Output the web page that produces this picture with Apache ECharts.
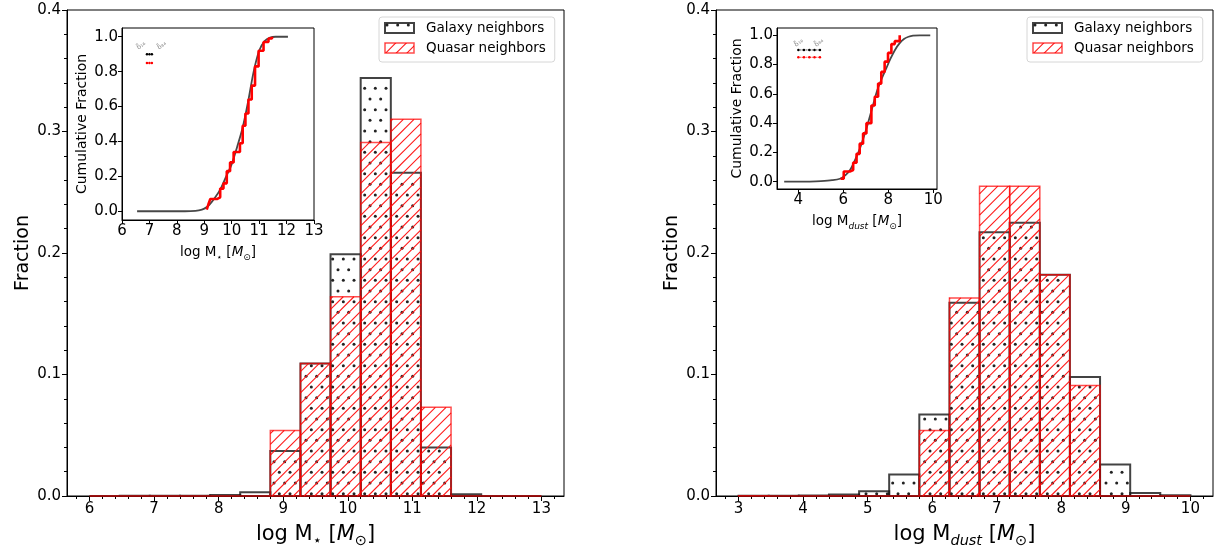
<!DOCTYPE html>
<html><head><meta charset="utf-8">
<script src="https://cdn.jsdelivr.net/npm/echarts@6/dist/echarts.min.js"></script>
<style>html,body{margin:0;padding:0;background:#fff}#c{width:1215px;height:554px}</style>
</head><body><div id="c"></div>
<script>
// ---------- data ----------
const starEdges = [6.000,6.467,6.933,7.400,7.867,8.333,8.800,9.267,9.733,10.200,10.667,11.133,11.600,12.067,12.533,13.000];
const starGalaxy = [0,0.0003,0.0002,0.0003,0.0008,0.003,0.037,0.109,0.199,0.344,0.266,0.040,0.0015,0,0];
const starQuasar = [0,0,0,0,0,0,0.054,0.109,0.164,0.291,0.310,0.073,0,0,0];

const dustEdges = [3.000,3.467,3.933,4.400,4.867,5.333,5.800,6.267,6.733,7.200,7.667,8.133,8.600,9.067,9.533,10.000];
const dustGalaxy = [0.0003,0.0002,0.0004,0.0012,0.004,0.0176,0.067,0.159,0.217,0.225,0.182,0.098,0.026,0.0025,0.0006];
const dustQuasar = [0.0003,0,0,0,0,0,0.054,0.163,0.255,0.255,0.182,0.091,0,0,0];

const starCdfGalX = [6.55,7.0,7.5,8.0,8.5,8.8,9.0,9.2,9.4,9.6,9.8,10.0,10.2,10.4,10.6,10.8,11.0,11.2,11.4,11.6,12.05];
const starCdfGalY = [0,0,0,0,0.001,0.005,0.015,0.04,0.08,0.13,0.2,0.27,0.37,0.48,0.63,0.8,0.92,0.975,0.995,1.0,1.0];
const starCdfQsoX = [9.09,9.15,9.22,9.35,9.46,9.58,9.7,9.82,9.94,10.07,10.19,10.3,10.4,10.5,10.61,10.73,10.85,10.98,11.16,11.34,11.47];
const starCdfQsoY = [0.01,0.04,0.07,0.07,0.08,0.13,0.16,0.23,0.28,0.34,0.34,0.39,0.49,0.56,0.64,0.72,0.83,0.92,0.97,0.99,1.0];

const dustCdfGalX = [3.37,4.0,4.5,5.0,5.5,5.85,6.1,6.3,6.5,6.7,6.9,7.1,7.3,7.5,7.7,7.9,8.1,8.3,8.5,8.7,8.9,9.1,9.4,9.87];
const dustCdfGalY = [0,0,0.001,0.004,0.01,0.02,0.045,0.08,0.14,0.21,0.3,0.4,0.51,0.62,0.7,0.77,0.84,0.9,0.945,0.975,0.99,0.998,1.0,1.0];
const dustCdfQsoX = [5.88,6.02,6.29,6.44,6.59,6.73,6.88,7.03,7.25,7.4,7.55,7.69,7.84,7.99,8.14,8.29,8.51];
const dustCdfQsoY = [0.02,0.07,0.08,0.13,0.19,0.26,0.33,0.40,0.52,0.58,0.67,0.75,0.82,0.88,0.94,0.96,1.0];

// percentile markers in the insets
const starPctGal = [[6.91,0.9],[7.0,0.9],[7.09,0.9]];
const starPctQso = [[6.91,0.85],[7.0,0.85],[7.09,0.85]];
const starPctLabels = [[6.70,0.95,'δ̃₁₆'],[7.45,0.95,'δ̃₈₄']];
const dustPctGal = [[4.0,0.9],[4.25,0.9],[4.49,0.9],[4.72,0.9],[4.96,0.9]];
const dustPctQso = [[4.0,0.85],[4.25,0.85],[4.49,0.85],[4.72,0.85],[4.96,0.85]];
const dustPctLabels = [[4.02,0.95,'δ̃₁₆'],[4.92,0.95,'δ̃₈₄']];

const starTicks = [6,7,8,9,10,11,12,13];
const dustTicks = [3,4,5,6,7,8,9,10];
const starInsetTicks = [6,7,8,9,10,11,12,13];
const dustInsetTicks = [4,6,8,10];
const cdfTicks = [0,0.2,0.4,0.6,0.8,1.0];

// ---------- styles ----------
const HS = 32/3;            // hatch spacing in px
const DOT = '#222', HATCH = '#ff1a1a';
const galStroke='rgba(20,20,20,0.8)', qsoStroke='rgba(255,0,0,0.7)';

function makeDots(){
  const c=document.createElement('canvas'); c.width=32; c.height=64;
  const g=c.getContext('2d'); g.fillStyle=DOT;
  for(let r=-1;r<=7;r++){for(let k=-1;k<=4;k++){
    const x=k*HS+(r%2?HS/2:0)+2, y=r*HS+2;
    g.beginPath(); g.arc(x,y,1.5,0,Math.PI*2); g.fill();
  }}
  return c;
}
function makeHatch(){
  const c=document.createElement('canvas'); c.width=32; c.height=32;
  const g=c.getContext('2d'); g.strokeStyle=HATCH; g.lineWidth=1.1;
  for(let k=-3;k<=9;k++){const cc=k*HS; g.beginPath(); g.moveTo(cc-40,40); g.lineTo(cc+40,-40); g.stroke();}
  return c;
}
const dotPat={image:makeDots(),repeat:'repeat'};
const hatchPat={image:makeHatch(),repeat:'repeat'};

function bins(edges, vals){return vals.map((v,i)=>[edges[i],edges[i+1],v]);}
function zip(xs,ys){return xs.map((x,i)=>[x,ys[i]]);}

function dotsIn(x0,y0,x1,y1){
  const out=[];
  const j0=Math.floor(y0/HS), j1=Math.ceil(y1/HS);
  for(let j=j0;j<=j1;j++){
    const y=j*HS+3; if(y<y0+1.5||y>y1-1.5) continue;
    const off=(Math.abs(j)%2)?HS/2:0;
    const k0=Math.floor(x0/HS)-1, k1=Math.ceil(x1/HS)+1;
    for(let k=k0;k<=k1;k++){const x=k*HS+off+2; if(x<x0+1.5||x>x1-1.5) continue;
      out.push({type:'circle',shape:{cx:x,cy:y,r:1.5},style:{fill:DOT},silent:true});}
  }
  return out;
}
function hatchIn(x0,y0,x1,y1){
  const out=[];
  const c0=Math.floor((x0+y0)/HS), c1=Math.ceil((x1+y1)/HS);
  for(let k=c0;k<=c1;k++){
    const c=k*HS;
    const xa=Math.max(x0,c-y1), xb=Math.min(x1,c-y0);
    if(xb-xa<0.3) continue;
    out.push({type:'line',shape:{x1:xa,y1:c-xa,x2:xb,y2:c-xb},style:{stroke:HATCH,lineWidth:1.1},silent:true});
  }
  return out;
}
function histRender(kind,stroke,lw){
  return function(params,api){
    const p0=api.coord([api.value(0),api.value(2)]);
    const p1=api.coord([api.value(1),0]);
    const x0=p0[0], y0=p0[1], x1=p1[0], y1=p1[1];
    const fillEls = (y1-y0>1) ? (kind==='dots'?dotsIn(x0,y0,x1,y1):hatchIn(x0,y0,x1,y1)) : [];
    fillEls.push({type:'rect',shape:{x:x0,y:y0,width:x1-x0,height:y1-y0},style:{fill:'none',stroke:stroke,lineWidth:lw},silent:true});
    return {type:'group',children:fillEls};
  };
}
function minorVals(a,b){const r=[];for(let v=Math.ceil(a*5);v<=b*5+1e-9;v++){if(v%5!==0)r.push(+(v/5).toFixed(1));}return r;}

const FF='DejaVu Sans';
const richMain={n:{fontSize:21,lineHeight:28,fontFamily:FF,color:'#000'},i:{fontSize:21,lineHeight:28,fontStyle:'italic',fontFamily:FF,color:'#000'},
  s:{fontSize:14.5,lineHeight:15,verticalAlign:'bottom',fontFamily:FF,color:'#000'},si:{fontSize:14.5,lineHeight:15,verticalAlign:'bottom',fontStyle:'italic',fontFamily:FF,color:'#000'}};
const richInset={n:{fontSize:13.5,lineHeight:20,fontFamily:FF,color:'#000'},i:{fontSize:13.5,lineHeight:20,fontStyle:'italic',fontFamily:FF,color:'#000'},
  s:{fontSize:9,lineHeight:10,verticalAlign:'bottom',fontFamily:FF,color:'#000'},si:{fontSize:9,lineHeight:10,verticalAlign:'bottom',fontStyle:'italic',fontFamily:FF,color:'#000'}};
const nameStar='{n|log M}{s|⋆}{n| [}{i|M}{s|⊙}{n|]}';
const nameDust='{n|log M}{si|dust}{n| [}{i|M}{s|⊙}{n|]}';

function majorX(grid,min,max,ticks,name){
  return {type:'value',gridIndex:grid,position:'bottom',min:min,max:max,
    axisLine:{show:true,onZero:false,lineStyle:{color:'#000',width:1}},
    axisTick:{show:true,length:5,customValues:ticks,lineStyle:{color:'#000'}},
    axisLabel:{show:true,customValues:ticks,fontSize:15,color:'#000',fontFamily:FF,margin:6,formatter:v=>String(v)},
    splitLine:{show:false},name:name,nameLocation:'middle',nameGap:25,nameTextStyle:{rich:richMain}};
}
function minorX(grid,min,max,lo,hi){
  return {type:'value',gridIndex:grid,position:'bottom',min:min,max:max,
    axisLine:{show:false,onZero:false},axisLabel:{show:false},splitLine:{show:false},
    axisTick:{show:true,length:3,customValues:minorVals(lo,hi),lineStyle:{color:'#000'}}};
}
function mainY(grid){
  return {type:'value',gridIndex:grid,min:0,max:0.4,interval:0.1,
    axisLine:{show:true,lineStyle:{color:'#000',width:1}},
    axisTick:{show:true,length:5,lineStyle:{color:'#000'}},
    minorTick:{show:true,splitNumber:5,length:3,lineStyle:{color:'#000'}},
    axisLabel:{fontSize:15,color:'#000',fontFamily:FF,margin:6,formatter:v=>v.toFixed(1)},
    splitLine:{show:false},name:'Fraction',nameLocation:'middle',nameGap:34,
    nameTextStyle:{fontSize:19,color:'#000',fontFamily:FF}};
}
function insetX(grid,min,max,ticks,name){
  return {type:'value',gridIndex:grid,position:'bottom',min:min,max:max,z:5,
    axisLine:{show:true,onZero:false,lineStyle:{color:'#000',width:1}},
    axisTick:{show:true,length:4,customValues:ticks,lineStyle:{color:'#000'}},
    axisLabel:{show:true,customValues:ticks,fontSize:15,color:'#000',fontFamily:FF,margin:4,formatter:v=>String(v)},
    splitLine:{show:false},name:name,nameLocation:'middle',nameGap:22,nameTextStyle:{rich:richInset}};
}
function insetY(grid){
  return {type:'value',gridIndex:grid,min:-0.05,max:1.05,z:5,
    axisLine:{show:true,onZero:false,lineStyle:{color:'#000',width:1}},
    axisTick:{show:true,length:4,customValues:cdfTicks,lineStyle:{color:'#000'}},
    axisLabel:{show:true,customValues:cdfTicks,fontSize:15,color:'#000',fontFamily:FF,margin:4,formatter:v=>v.toFixed(1)},
    splitLine:{show:false},name:'Cumulative Fraction',nameLocation:'middle',nameGap:33,
    nameTextStyle:{fontSize:14,color:'#000',fontFamily:FF}};
}
function legendFor(left){
  return {left:left,top:17,orient:'vertical',itemWidth:29,itemHeight:10,itemGap:6,
    backgroundColor:'#fff',borderColor:'#d6d6d6',borderWidth:1,borderRadius:3,padding:[4,9,7,5],
    selectedMode:false,
    formatter:n=>'{t|'+n+'}',
    textStyle:{fontSize:13.5,color:'#000',fontFamily:FF,rich:{t:{fontSize:13.5,color:'#000',fontFamily:FF,padding:[0,0,0,7],lineHeight:16}}},
    data:[{name:'Galaxy neighbors',icon:'rect',itemStyle:{color:dotPat,borderColor:galStroke,borderWidth:2}},
          {name:'Quasar neighbors',icon:'rect',itemStyle:{color:hatchPat,borderColor:qsoStroke,borderWidth:1.5}}]};
}
function histSeries(name,xi,yi,data,kind,stroke,lw,z){
  return {type:'custom',name:name,xAxisIndex:xi,yAxisIndex:yi,data:data,renderItem:histRender(kind,stroke,lw),
    encode:{x:[0,1],y:2},clip:false,silent:true,z:z,
    itemStyle:{color:kind==='dots'?dotPat:hatchPat}};
}
function cdfLine(xi,yi,data,color,w,step,z){
  return {type:'line',xAxisIndex:xi,yAxisIndex:yi,data:data,showSymbol:false,symbol:'none',step:step,smooth:step?false:0.3,
    lineStyle:{color:color,width:w},z:z,silent:true};
}
function pctLine(xi,yi,data,color){
  return {type:'line',xAxisIndex:xi,yAxisIndex:yi,data:data,symbol:'circle',symbolSize:2.5,
    itemStyle:{color:color},lineStyle:{color:color,width:1,type:'dotted'},z:6,silent:true};
}
function pctText(xi,yi,items){
  return {type:'scatter',xAxisIndex:xi,yAxisIndex:yi,symbolSize:0.01,data:items.map(d=>({value:[d[0],d[1]],txt:d[2]})),
    label:{show:true,position:'inside',rotate:40,fontSize:6.5,color:'#666',fontFamily:FF,formatter:p=>p.data.txt},z:6,silent:true};
}

const chart=echarts.init(document.getElementById('c'),null,{renderer:'canvas'});
chart.setOption({
  animation:false,
  textStyle:{fontFamily:FF},
  grid:[
    {left:67,top:10,width:497,height:492,show:true,borderColor:'#000',borderWidth:1,backgroundColor:'transparent'},
    {left:716,top:10,width:497,height:492,show:true,borderColor:'#000',borderWidth:1,backgroundColor:'transparent'},
    {left:122,top:28,width:192,height:192,show:true,borderColor:'#000',borderWidth:1,backgroundColor:'#fff',z:5},
    {left:777,top:28,width:160,height:161,show:true,borderColor:'#000',borderWidth:1,backgroundColor:'#fff',z:5}
  ],
  xAxis:[
    majorX(0,5.65,13.35,starTicks,nameStar),
    minorX(0,5.65,13.35,5.65,13.35),
    majorX(1,2.65,10.35,dustTicks,nameDust),
    minorX(1,2.65,10.35,2.65,10.35),
    insetX(2,6,13,starInsetTicks,nameStar),
    insetX(3,3.05,10.17,dustInsetTicks,nameDust)
  ],
  yAxis:[mainY(0),mainY(1),insetY(2),insetY(3)],
  legend:[legendFor(379),legendFor(1027)],
  series:[
    histSeries('Galaxy neighbors',0,0,bins(starEdges,starGalaxy),'dots',galStroke,2,2),
    histSeries('Quasar neighbors',0,0,bins(starEdges,starQuasar),'hatch',qsoStroke,1.5,3),
    histSeries('Galaxy neighbors',2,1,bins(dustEdges,dustGalaxy),'dots',galStroke,2,2),
    histSeries('Quasar neighbors',2,1,bins(dustEdges,dustQuasar),'hatch',qsoStroke,1.5,3),
    cdfLine(4,2,zip(starCdfGalX,starCdfGalY),'rgba(0,0,0,0.72)',1.8,false,6),
    cdfLine(4,2,zip(starCdfQsoX,starCdfQsoY),'#ff0000',2.6,'end',7),
    cdfLine(5,3,zip(dustCdfGalX,dustCdfGalY),'rgba(0,0,0,0.72)',1.8,false,6),
    cdfLine(5,3,zip(dustCdfQsoX,dustCdfQsoY),'#ff0000',2.6,'end',7),
    pctLine(4,2,starPctGal,'#000'),pctLine(4,2,starPctQso,'#ff0000'),pctText(4,2,starPctLabels),
    pctLine(5,3,dustPctGal,'#000'),pctLine(5,3,dustPctQso,'#ff0000'),pctText(5,3,dustPctLabels)
  ]
});
</script></body></html>
